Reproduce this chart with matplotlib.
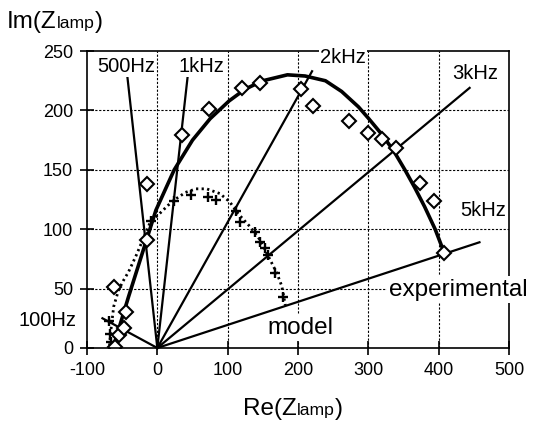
import matplotlib
matplotlib.use('Agg')
import matplotlib.pyplot as plt

plt.rcParams['font.family'] = ['Liberation Sans', 'DejaVu Sans']
plt.rcParams['axes.unicode_minus'] = False

# experimental impedance points (diamonds)
exp_re = [-60, -55, -48, -44, -61, -15, -14, 35, 74, 120, 146, 204, 221, 272, 300, 319, 340, 373, 393, 408]
exp_im = [1, 11, 16.5, 30.5, 51.5, 91, 138, 179, 201, 219, 223, 218, 204, 191, 181, 176, 168, 139, 124, 80]

# fitted curve through the experimental points
fit_re = [-63, -41, -17, -2, 24, 50, 75, 102, 125, 150, 185, 210, 239, 262, 286, 300, 319, 336, 352, 366, 380, 395, 408]
fit_im = [0, 43, 88, 116, 150, 175, 193, 208, 218, 225, 230, 229, 225, 216, 203, 193.5, 180, 166, 150, 135, 119, 100, 80]

# model points (crosses) and model curve (dotted)
model_re = [-69, -67, -66, -9, 24, 48, 72, 84, 112, 117, 139, 146, 153, 158, 168, 179]
model_im = [23, 12, 5, 107, 124, 129, 127, 125, 115, 106, 98, 89, 84, 78, 63, 43]
mcurve_re = [-68, -66, -62, -55, -48, -41, -30, -20, -10, 3, 15, 25, 40, 55, 70, 89, 103, 115, 132, 146, 158, 170, 177, 182]
mcurve_im = [2, 15, 35, 49, 57, 64, 78, 92, 106, 113, 120, 125, 131, 134, 134, 130, 123, 113, 102, 91, 77, 63, 52, 36]

# constant-frequency lines from the origin
freq_labels = ['100Hz', '500Hz', '1kHz', '2kHz', '3kHz', '5kHz']
freq_end_re = [-78, -44, 43, 220, 444, 458]
freq_end_im = [25, 236, 228, 233, 219, 89]

fig = plt.figure(figsize=(5.35, 4.22), dpi=100)
ax = fig.add_axes([0.1626, 0.1754, 0.7888, 0.7036])

ax.set_xlim(-100, 500)
ax.set_ylim(0, 250)
ax.set_xticks(range(-100, 501, 100))
ax.set_yticks(range(0, 251, 50))
ax.tick_params(direction='inout', length=10, width=1.2, labelsize=13, pad=5)
for s in ax.spines.values():
    s.set_linewidth(1.2)

# grid only inside the frame
for gx in range(0, 500, 100):
    ax.axvline(gx, color='black', lw=0.8, ls=(0, (2, 1.5)), zorder=0)
for gy in range(50, 250, 50):
    ax.axhline(gy, color='black', lw=0.8, ls=(0, (2, 1.5)), zorder=0)

for xe, ye in zip(freq_end_re, freq_end_im):
    ax.plot([0, xe], [0, ye], color='black', lw=1.6, clip_on=False)

ax.plot(mcurve_re, mcurve_im, color='black', lw=2, ls=(0, (0.8, 1.2)))
ax.plot(model_re, model_im, ls='none', marker='+', ms=6.5, mew=1.7, color='black')
ax.plot(fit_re, fit_im, color='black', lw=2.6)
ax.plot(exp_re, exp_im, ls='none', marker='D', ms=7, mfc='white', mec='black', mew=1.5)

label_pos = {'100Hz': (-115, 23, 'right'), '500Hz': (-44, 237, 'center'),
             '1kHz': (63, 237, 'center'), '2kHz': (264, 245, 'center'),
             '3kHz': (452, 231, 'center'), '5kHz': (463, 116, 'center')}
for lab in freq_labels:
    x, y, ha = label_pos[lab]
    ax.text(x, y, lab, fontsize=14.5, ha=ha, va='center', clip_on=False,
            bbox=dict(boxstyle='square,pad=0.05', fc='white', ec='none'))

ax.text(330, 49, 'experimental', fontsize=17.5, ha='left', va='center', clip_on=False,
        bbox=dict(boxstyle='square,pad=0.1', fc='white', ec='none'))
ax.text(204, 17, 'model', fontsize=17.5, ha='center', va='center',
        bbox=dict(boxstyle='square,pad=0.1', fc='white', ec='none'))


def axis_title(x, y, head, sub, tail, size):
    # big "Z" followed by a smaller "lamp" on the same baseline
    r = fig.canvas.get_renderer()
    t = fig.text(x, y, head, fontsize=size, va='baseline')
    x1 = fig.transFigure.inverted().transform((t.get_window_extent(r).x1, 0))[0]
    t = fig.text(x1, y, sub, fontsize=size * 0.72, va='baseline')
    x2 = fig.transFigure.inverted().transform((t.get_window_extent(r).x1, 0))[0]
    fig.text(x2, y, tail, fontsize=size, va='baseline')


axis_title(0.013, 0.934, 'Im(Z', 'lamp', ')', 17.5)
axis_title(0.455, 0.017, 'Re(Z', 'lamp', ')', 17.5)

fig.savefig('out.png', dpi=100)
